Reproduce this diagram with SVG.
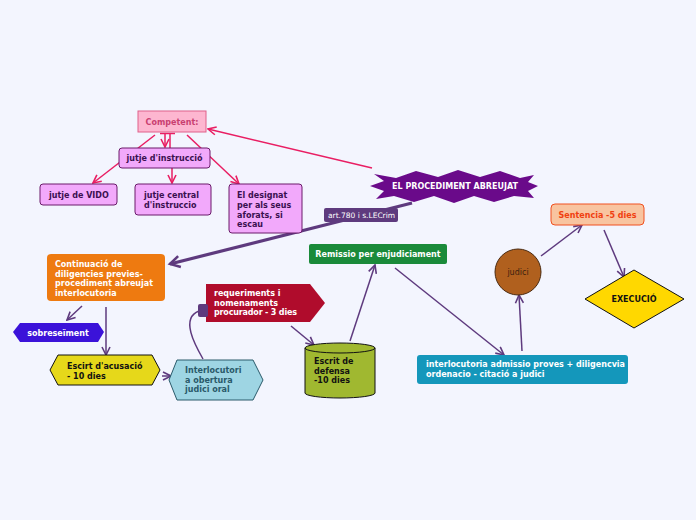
<svg xmlns="http://www.w3.org/2000/svg" width="696" height="520" viewBox="0 0 696 520">
<defs>
<style>
text{font-family:"DejaVu Sans",Verdana,sans-serif;font-weight:bold;font-size:8px}
.pk{stroke:#e91e63;stroke-width:1.5;fill:none}
.pu{stroke:#5e3a7e;stroke-width:1.5;fill:none}
.jn{fill:#f2a9fb;stroke:#6a1b6a;stroke-width:1}
.jt{fill:#3a1050}
.w{fill:#ffffff}
.k{fill:#111111}
</style>
<marker id="ap" viewBox="0 0 10 10" refX="9" refY="5" markerWidth="10" markerHeight="10" markerUnits="userSpaceOnUse" orient="auto">
<path d="M1,1 L9,5 L1,9" fill="none" stroke="#e91e63" stroke-width="1.6"/>
</marker>
<marker id="au" viewBox="0 0 10 10" refX="9" refY="5" markerWidth="10" markerHeight="10" markerUnits="userSpaceOnUse" orient="auto">
<path d="M1,1 L9,5 L1,9" fill="none" stroke="#5e3a7e" stroke-width="1.6"/>
</marker>
<marker id="aub" viewBox="0 0 10 10" refX="8" refY="5" markerWidth="14" markerHeight="14" markerUnits="userSpaceOnUse" orient="auto">
<path d="M1,1 L8,5 L1,9" fill="none" stroke="#5e3a7e" stroke-width="1.8"/>
</marker>
</defs>
<rect width="696" height="520" fill="#f3f5fe"/>
<g id="connectors">
<line class="pk" x1="372" y1="168" x2="208" y2="129" marker-end="url(#ap)"/>
<line class="pk" x1="155" y1="135" x2="93" y2="183" marker-end="url(#ap)"/>
<line class="pk" x1="187" y1="135" x2="239" y2="184" marker-end="url(#ap)"/>
<line class="pk" x1="165" y1="133" x2="165" y2="147" marker-end="url(#ap)"/>
<line class="pk" x1="170" y1="133" x2="170" y2="148"/>
<line class="pk" x1="160" y1="133.5" x2="175" y2="133.5"/>
<line class="pk" x1="172" y1="168" x2="172" y2="183" marker-end="url(#ap)"/>
<line x1="412" y1="203" x2="170" y2="264" stroke="#5e3a7e" stroke-width="3.2" marker-end="url(#aub)"/>
<line class="pu" x1="82" y1="306" x2="67" y2="320" marker-end="url(#au)"/>
<line class="pu" x1="106" y1="307" x2="106" y2="355" marker-end="url(#au)"/>
<line class="pu" x1="162" y1="376" x2="171" y2="376" marker-end="url(#au)"/>
<path class="pu" d="M203,359 C195,345 180,318 199,311"/>
<line class="pu" x1="291" y1="326" x2="314" y2="345" marker-end="url(#au)"/>
<line class="pu" x1="350" y1="341" x2="375" y2="265" marker-end="url(#au)"/>
<line class="pu" x1="395" y1="268" x2="504" y2="355" marker-end="url(#au)"/>
<line class="pu" x1="522" y1="351" x2="519" y2="295" marker-end="url(#au)"/>
<line class="pu" x1="541" y1="256" x2="582" y2="225" marker-end="url(#au)"/>
<line class="pu" x1="604" y1="230" x2="624" y2="277" marker-end="url(#au)"/>
</g>
<g id="competent">
<rect x="138" y="111" width="68" height="21" fill="#fdb6d0" stroke="#e0608a" stroke-width="1"/>
<text x="172" y="124.5" text-anchor="middle" fill="#c94070">Competent:</text>
</g>
<g id="jutje-instruccio">
<rect class="jn" x="119" y="148" width="91" height="20" rx="3"/>
<text class="jt" x="164.5" y="161" text-anchor="middle">jutje d'instrucció</text>
</g>
<g id="jutje-vido">
<rect class="jn" x="40" y="184" width="77" height="21" rx="3"/>
<text class="jt" x="49" y="197.5">jutje de VIDO</text>
</g>
<g id="jutje-central">
<rect class="jn" x="135" y="184" width="76" height="31" rx="3"/>
<text class="jt" x="144" y="198">jutje central</text>
<text class="jt" x="144" y="208">d'instruccio</text>
</g>
<g id="designat">
<rect class="jn" x="229" y="184" width="73" height="49" rx="3"/>
<text class="jt" x="237" y="198">El designat</text>
<text class="jt" x="237" y="208">per als seus</text>
<text class="jt" x="237" y="217.5">aforats, si</text>
<text class="jt" x="237" y="227">escau</text>
</g>
<g id="procediment">
<polygon fill="#6a0a8a" points="374,174 396,178 416,171 438,177 458,170 480,177 500,171 520,178 534,175 528,182 538,186 528,191 534,198 514,196 494,202 474,196 454,203 434,196 414,202 394,196 376,199 384,191 370,186 384,181"/>
<text class="w" x="455" y="189" text-anchor="middle">EL PROCEDIMENT ABREUJAT</text>
</g>
<g id="art-label">
<rect x="324" y="208" width="74" height="14" rx="2" fill="#5e3a7e"/>
<text class="w" x="328" y="218" style="font-weight:normal;font-size:7.5px">art.780 i s.LECrim</text>
</g>
<g id="continuacio">
<rect x="47" y="254" width="118" height="47" rx="4" fill="#ee7a10"/>
<text class="w" x="55" y="267">Continuació de</text>
<text class="w" x="55" y="276.5">diligencies previes-</text>
<text class="w" x="55" y="286">procediment abreujat</text>
<text class="w" x="55" y="295.5">interlocutoria</text>
</g>
<g id="sobreseiment">
<polygon fill="#3b12d9" points="13,332 20,323 98,323 104,332 98,342 20,342"/>
<text class="w" x="58" y="335.5" text-anchor="middle">sobreseïment</text>
</g>
<g id="escirt">
<polygon fill="#e6d81a" stroke="#111" stroke-width="1" points="50,370 58,355 152,355 160,370 152,385 58,385"/>
<text class="k" x="67" y="369">Escirt d'acusació</text>
<text class="k" x="67" y="378.5">- 10 dies</text>
</g>
<g id="interlocutori">
<polygon fill="#9ed5e3" stroke="#2a5a6a" stroke-width="1" points="169,380 177,360 253,360 263,380 253,400 177,400"/>
<text x="185" y="373" fill="#2a5a6a">Interlocutori</text>
<text x="185" y="383" fill="#2a5a6a">a obertura</text>
<text x="185" y="392" fill="#2a5a6a">judici oral</text>
</g>
<g id="requeriments">
<polygon fill="#b00c2c" points="206,284 310,284 325,303 310,322 206,322"/>
<rect x="198" y="304" width="10" height="13" rx="2" fill="#5e3a7e"/>
<text class="w" x="214" y="296">requeriments i</text>
<text class="w" x="214" y="305.5">nomenaments</text>
<text class="w" x="214" y="315" textLength="83">procurador - 3 dies</text>
</g>
<g id="escrit-defensa">
<path d="M305,348 A35,5 0 0 1 375,348 V393 A35,5 0 0 1 305,393 Z" fill="#a0b830" stroke="#111" stroke-width="1"/>
<path d="M305,348 A35,5 0 0 0 375,348" fill="none" stroke="#111" stroke-width="1"/>
<text class="k" x="314" y="364">Escrit de</text>
<text class="k" x="314" y="374">defensa</text>
<text class="k" x="314" y="383">-10 dies</text>
</g>
<g id="remissio">
<rect x="309" y="244" width="138" height="20" rx="2" fill="#1a8a3a"/>
<text class="w" x="378" y="257" text-anchor="middle">Remissio per enjudiciament</text>
</g>
<g id="interlocutoria-admissio">
<rect x="417" y="355" width="211" height="29" rx="3" fill="#1497bb"/>
<text class="w" x="426" y="367">interlocutoria admissio proves + diligencvia</text>
<text class="w" x="426" y="377">ordenacio - citació a judici</text>
</g>
<g id="judici">
<circle cx="518" cy="272" r="23" fill="#b0601e" stroke="#4a2a10" stroke-width="1"/>
<text x="518" y="275" text-anchor="middle" fill="#3a2010" style="font-weight:normal">judici</text>
</g>
<g id="sentencia">
<rect x="551" y="204" width="93" height="21" rx="4" fill="#f8c4a0" stroke="#f05020" stroke-width="1"/>
<text x="597.5" y="218" text-anchor="middle" fill="#f04010">Sentencia -5 dies</text>
</g>
<g id="execucio">
<polygon fill="#ffd800" stroke="#111" stroke-width="1" points="585,299 634,270 684,299 634,328"/>
<text class="k" x="634" y="302" text-anchor="middle">EXECUCIÓ</text>
</g>
</svg>
